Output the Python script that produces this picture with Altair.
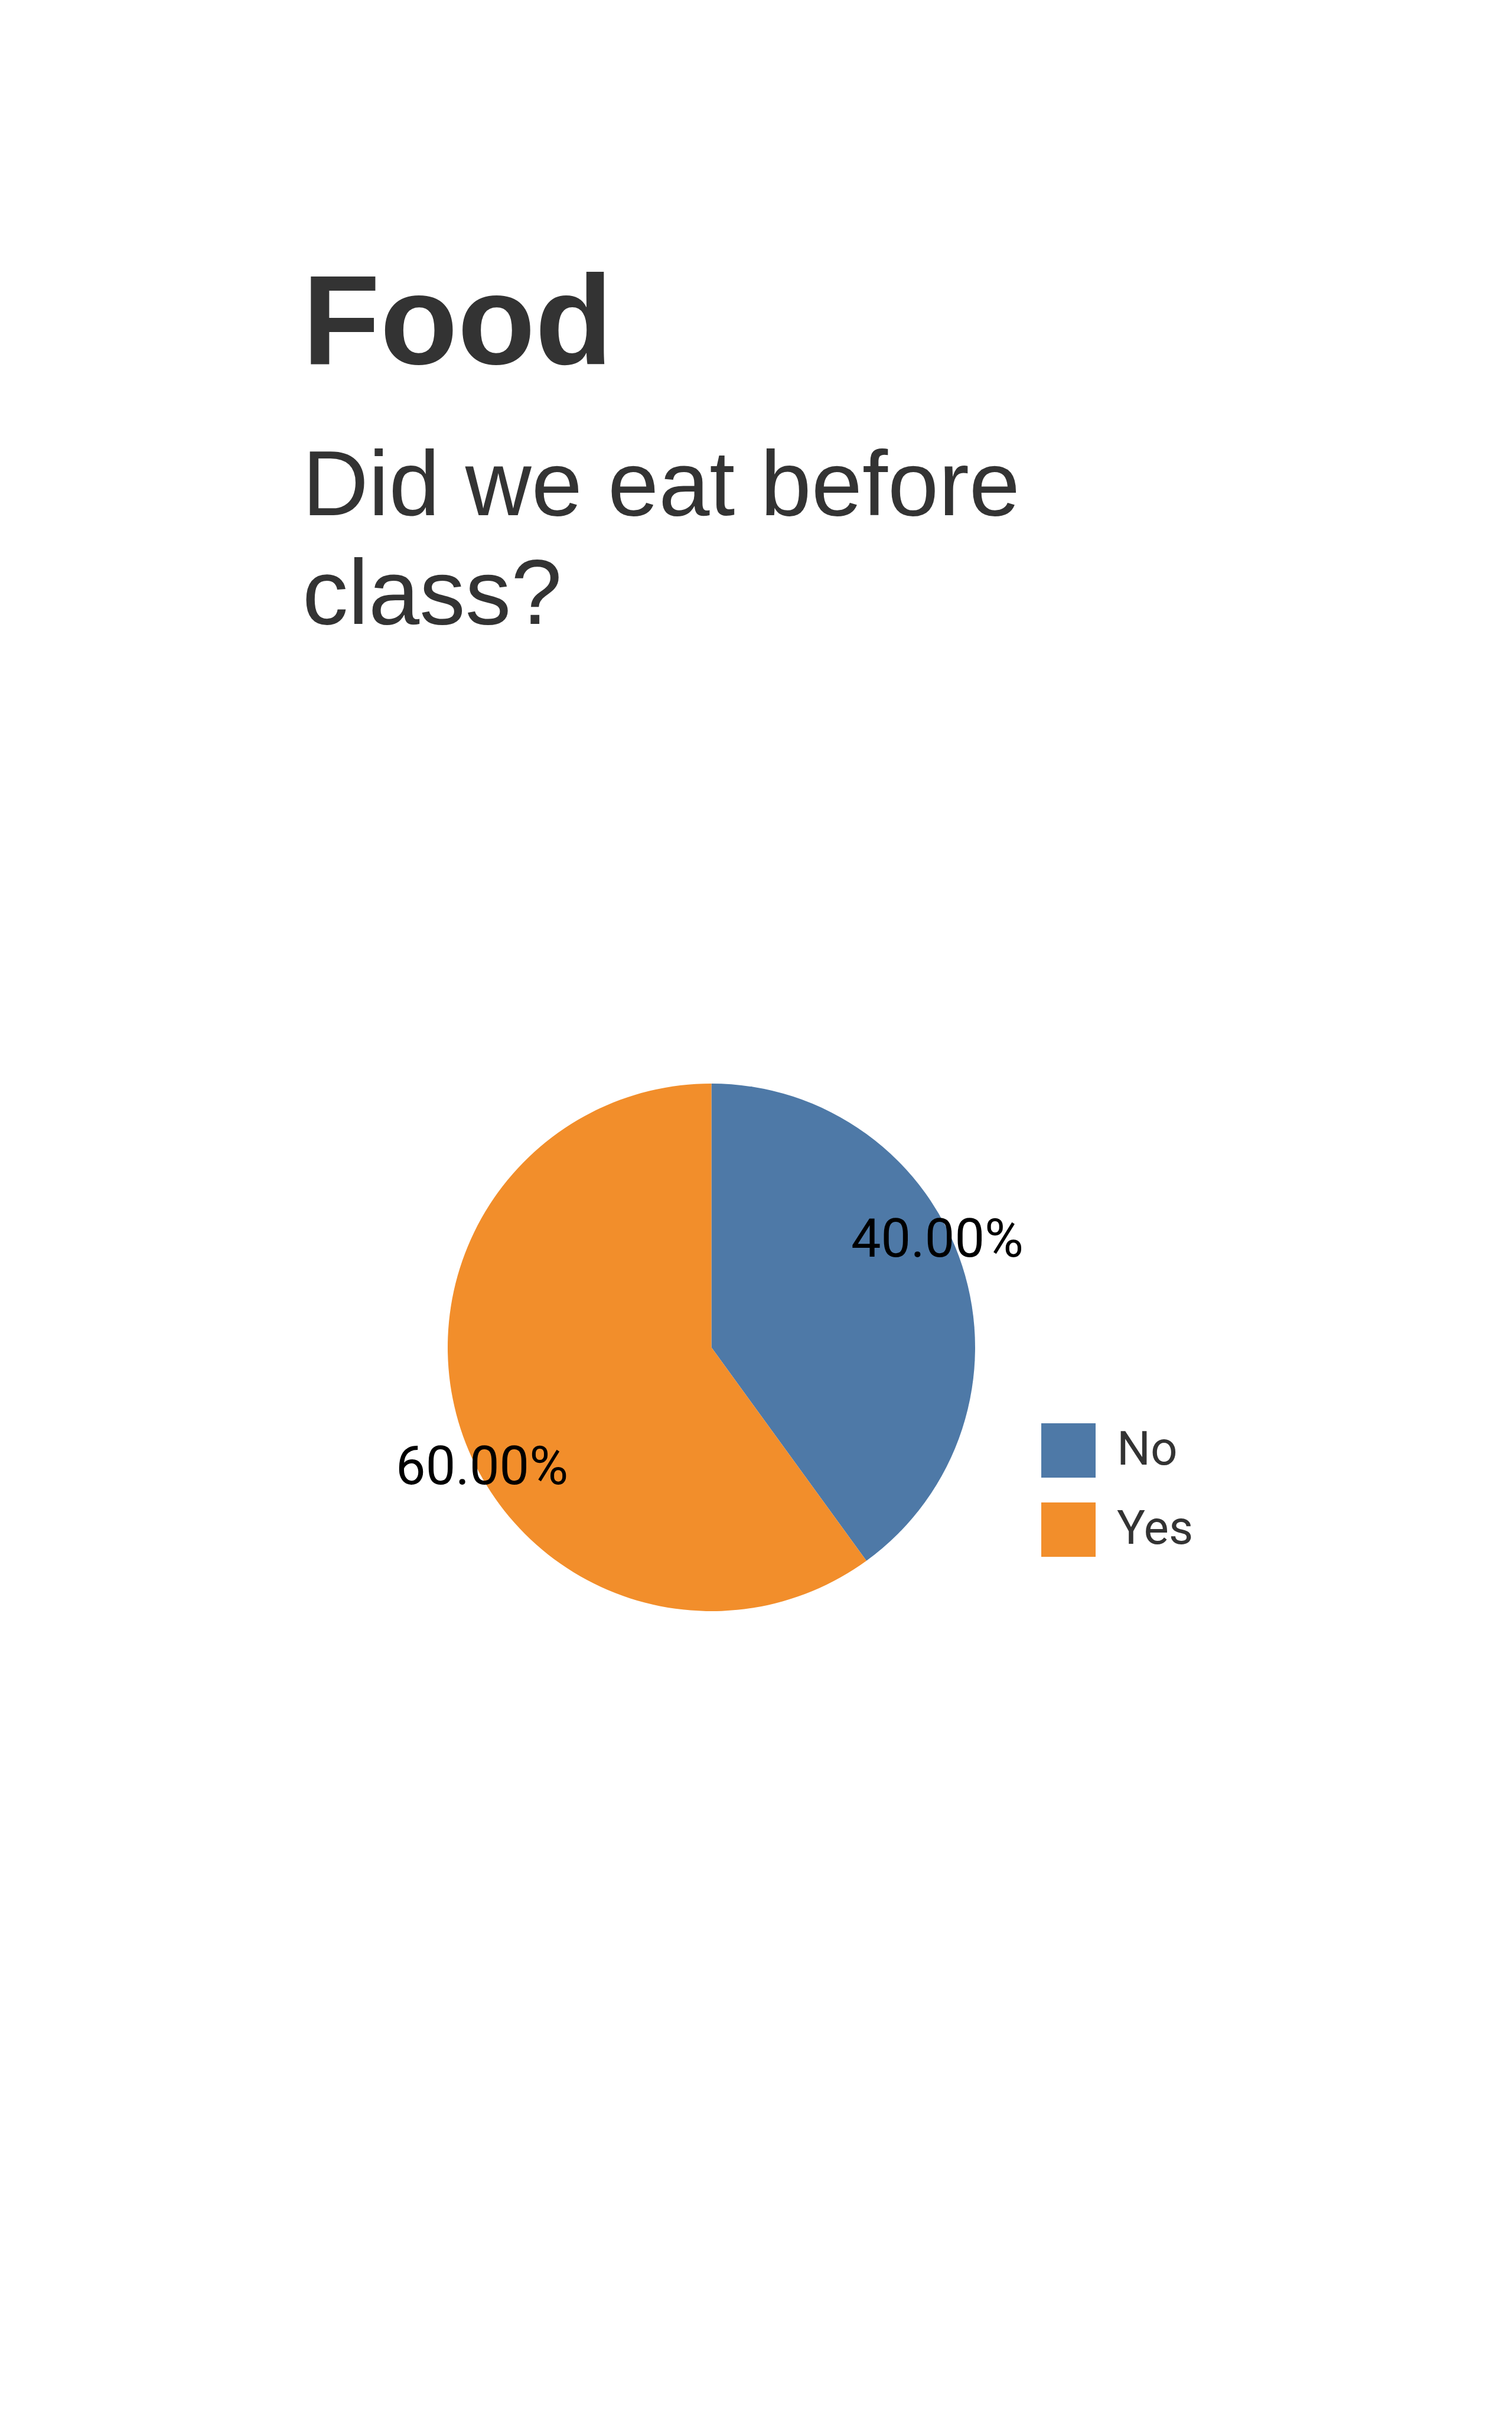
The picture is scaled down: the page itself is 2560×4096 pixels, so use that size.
import altair as alt
import pandas as pd

# Data
answers = ["No", "Yes"]
shares = [0.40, 0.60]
colors = ["#4e79a7", "#f28e2b"]

title_text = "Food"
subtitle_lines = ["Did we eat before", "class?"]

df = pd.DataFrame({"answer": answers, "share": shares})

base = alt.Chart(df).encode(
    theta=alt.Theta("share:Q", stack=True),
    order=alt.Order("answer:N"),
)

pie = base.mark_arc().encode(
    color=alt.Color(
        "answer:N",
        scale=alt.Scale(domain=answers, range=colors),
        legend=alt.Legend(
            title=None,
            orient="none",
            legendX=1005,
            legendY=575,
            symbolType="square",
            symbolSize=8464,
            symbolStrokeWidth=0,
            labelFont="Roboto",
            labelFontSize=80,
            labelColor="#333333",
            labelOffset=36,
            labelBaseline="middle",
            rowPadding=42,
            padding=0,
        ),
    )
)

labels = base.mark_text(
    radius=431,
    thetaOffset=-0.150,
    dx=-3,
    dy=12,
    font="Roboto",
    fontSize=90,
    color="#000000",
).encode(text=alt.Text("share:Q", format=".2%"))

chart = (
    (pie + labels)
    .properties(
        width=893,
        height=893,
        title=alt.Title(
            title_text,
            subtitle=subtitle_lines,
            anchor="start",
            dx=-158,
            offset=745,
            font="Liberation Sans",
            fontSize=215,
            fontWeight="bold",
            color="#333333",
            subtitleFont="Liberation Sans",
            subtitleFontSize=155,
            subtitleColor="#333333",
            subtitleLineHeight=184,
            subtitlePadding=89,
        ),
        autosize="none",
        padding={"left": 758, "top": 1834, "right": 909, "bottom": 1369},
    )
    .configure_view(strokeWidth=0)
    .configure(background="white")
)

chart.save("out.html", embed_options={"renderer": "svg", "actions": False})
